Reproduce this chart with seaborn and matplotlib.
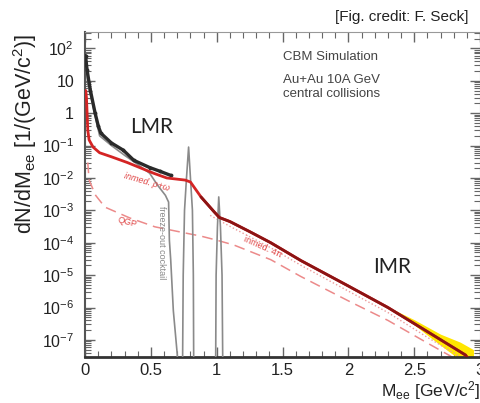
import numpy as np
import pandas as pd
import matplotlib
matplotlib.use("Agg")
import matplotlib.pyplot as plt
import seaborn as sns
from matplotlib.ticker import FixedLocator, FixedFormatter, LogLocator, MultipleLocator, NullFormatter

# total yield (black, simulated points)
total_m = [0.003, 0.015, 0.04, 0.076, 0.10, 0.12, 0.20, 0.29, 0.37, 0.49, 0.57, 0.65]
total_y = [60, 21, 5, 1.0, 0.4, 0.24, 0.12, 0.072, 0.035, 0.021, 0.016, 0.012]

# freeze-out cocktail (grey)
cock_m = [0.003, 0.02, 0.05, 0.08, 0.11, 0.20, 0.30, 0.40, 0.49, 0.55, 0.61, 0.634, 0.64, 0.65,
          0.67, 0.70, 0.705, 0.738, 0.745, 0.755, 0.77, 0.786, 0.80, 0.815, 0.822, 0.826,
          0.99, 0.995, 1.005, 1.015, 1.028, 1.04, 1.048]
cock_y = [40, 8, 2.5, 0.7, 0.2, 0.1, 0.05, 0.026, 0.014, 0.006, 0.0029, 0.0018, 1.2e-4, 3e-5,
          8e-7, 3.5e-8, 1e-9, 1e-9, 1e-5, 1e-3, 0.01, 0.09, 0.01, 1e-3, 1e-5, 1e-9,
          1e-9, 1e-5, 3e-4, 2.6e-3, 3e-4, 1e-5, 1e-9]

# in-medium rho+omega + cocktail (red)
red_m = [0.005, 0.01, 0.015, 0.02, 0.03, 0.06, 0.11, 0.20, 0.32, 0.52, 0.62, 0.76, 0.80,
         0.88, 0.98, 1.02, 1.10, 1.25, 1.41, 1.64, 2.0, 2.3, 2.6, 2.89, 2.95, 3.0]
red_y = [5, 3, 1, 0.3, 0.15, 0.09, 0.06, 0.045, 0.03, 0.014, 0.01, 0.0086, 0.0075,
         0.0026, 9e-4, 6e-4, 4.5e-4, 2.2e-4, 1e-4, 2.8e-5, 4.6e-6, 1e-6, 1.8e-7, 3.4e-8, 1.5e-8, 1e-9]

# QGP (dashed)
qgp_m = [0.02, 0.03, 0.08, 0.15, 0.34, 0.53, 0.76, 0.88, 1.0, 1.13, 1.41, 1.64, 2.0, 2.3, 2.6, 2.82]
qgp_y = [0.03, 0.0086, 0.0029, 1.26e-3, 5.8e-4, 3.1e-4, 2e-4, 1.6e-4, 1.2e-4, 8.5e-5,
         3e-5, 9e-6, 1.6e-6, 4e-7, 8e-8, 2.5e-8]

# in-medium 4pi (dotted)
med4_m = [0.95, 1.1, 1.41, 1.64, 2.0, 2.3, 2.6, 2.85]
med4_y = [7e-4, 3.2e-4, 7e-5, 2e-5, 3.2e-6, 7e-7, 1.2e-7, 3e-8]

# systematic band (yellow)
band_m = [2.3, 2.5, 2.7, 2.85, 2.95]
band_lo = [9.5e-7, 2.9e-7, 6.8e-8, 2.4e-8, 1e-8]
band_hi = [1.05e-6, 4.2e-7, 1.5e-7, 8.5e-8, 5e-8]

x_ticks = [0, 0.5, 1, 1.5, 2, 2.5, 3]
x_labels = ["0", "0.5", "1", "1.5", "2", "2.5", "3"]
y_ticks = [1e2, 1e1, 1, 1e-1, 1e-2, 1e-3, 1e-4, 1e-5, 1e-6, 1e-7]
y_labels = ["10$^{2}$", "10", "1", "10$^{-1}$", "10$^{-2}$", "10$^{-3}$", "10$^{-4}$",
            "10$^{-5}$", "10$^{-6}$", "10$^{-7}$"]

sns.set_style("ticks")
plt.rcParams['font.family'] = ['Liberation Sans', 'DejaVu Sans']
plt.rcParams['mathtext.default'] = 'regular'

fig = plt.figure(figsize=(4.81, 4.03), dpi=100)
ax = fig.add_axes([0.177, 0.114, 0.821, 0.806])
ax.set_yscale("log")

red = pd.DataFrame({"m": red_m, "y": red_y})
ax.fill_between(band_m, band_lo, band_hi, color="#ffe600", lw=0, zorder=1)
sns.lineplot(x=qgp_m, y=qgp_y, ax=ax, color="#ec8a8a", lw=1.1,
             estimator=None, sort=False, zorder=2)
ax.lines[-1].set_dashes((7, 4))
sns.lineplot(x=med4_m, y=med4_y, ax=ax, color="#ec9a9a", lw=1.0,
             estimator=None, sort=False, zorder=2)
ax.lines[-1].set_linestyle(":")
sns.lineplot(x=cock_m, y=cock_y, ax=ax, color="#8a8a8a", lw=1.2,
             estimator=None, sort=False, zorder=3)
sns.lineplot(x=total_m, y=total_y, ax=ax, color="#2a2a2a", lw=2.4, marker="o", ms=2,
             mec="#2a2a2a", estimator=None, sort=False, zorder=4)
sns.lineplot(data=red, x="m", y="y", ax=ax, color="#d42424", lw=2.0,
             estimator=None, sort=False, zorder=5)
sns.lineplot(data=red[red.m >= 0.85], x="m", y="y", ax=ax, color="#8c1414", lw=2.0,
             estimator=None, sort=False, zorder=6)

ax.set_xlim(0, 3)
ax.set_ylim(2.95e-8, 316)
ax.xaxis.set_major_locator(FixedLocator(x_ticks))
ax.xaxis.set_major_formatter(FixedFormatter(x_labels))
ax.xaxis.set_minor_locator(MultipleLocator(0.1))
ax.yaxis.set_major_locator(FixedLocator(y_ticks))
ax.yaxis.set_major_formatter(FixedFormatter(y_labels))
ax.yaxis.set_minor_locator(LogLocator(base=10, subs=np.arange(2, 10), numticks=30))
ax.yaxis.set_minor_formatter(NullFormatter())
ax.tick_params(which="both", direction="in", top=True, right=True, colors="#666",
               labelcolor="#222", labelsize=12)
ax.tick_params(axis="y", labelsize=11.5)
ax.tick_params(which="major", length=7, width=1)
ax.tick_params(which="minor", length=4, width=0.8)
ax.tick_params(axis="y", pad=8)
ax.tick_params(axis="x", pad=4)
for s in ["top", "right"]:
    ax.spines[s].set_color("#999")
    ax.spines[s].set_linewidth(0.8)
ax.spines["left"].set_color("#555")
ax.spines["left"].set_linewidth(1.5)
ax.spines["bottom"].set_color("#333")
ax.spines["bottom"].set_linewidth(2)

ax.set_xlabel("")
ax.set_ylabel("")
fig.text(0.052, 0.668, "dN/dM$_{ee}$ [1/(GeV/c$^{2}$)]", rotation=90, ha="center", va="center",
         fontsize=15.5, color="#222")
fig.text(0.999, 0.002, "M$_{ee}$ [GeV/c$^{2}$]", ha="right", va="bottom", fontsize=12.5, color="#222")
fig.text(0.973, 0.958, "[Fig. credit: F. Seck]", ha="right", va="center", fontsize=11, color="#222")

ax.text(0.50, 0.923, "CBM Simulation", transform=ax.transAxes, fontsize=9.5, color="#444", va="center")
ax.text(0.50, 0.852, "Au+Au 10A GeV", transform=ax.transAxes, fontsize=9.5, color="#444", va="center")
ax.text(0.50, 0.810, "central collisions", transform=ax.transAxes, fontsize=9.5, color="#444", va="center")
ax.text(0.114, 0.69, "LMR", transform=ax.transAxes, fontsize=15, color="#222", family="Lato")
ax.text(0.73, 0.26, "IMR", transform=ax.transAxes, fontsize=15, color="#222", family="Lato")

ax.text(0.47, 0.0074, "inmed. ρ+ω", fontsize=6.5, color="#e04848", style="italic",
        rotation=-16, ha="center", va="center")
ax.text(0.32, 4.3e-4, "QGP", fontsize=6.5, color="#e04848", rotation=-15, ha="center", va="center")
ax.text(0.58, 1.0e-4, "freeze-out cocktail", fontsize=6.5, color="#888", rotation=-90,
        ha="center", va="center")
ax.text(1.35, 7.4e-5, "inmed. 4π", fontsize=6.5, color="#e04848", rotation=-24,
        ha="center", va="center")

fig.savefig("out.png", dpi=100)
